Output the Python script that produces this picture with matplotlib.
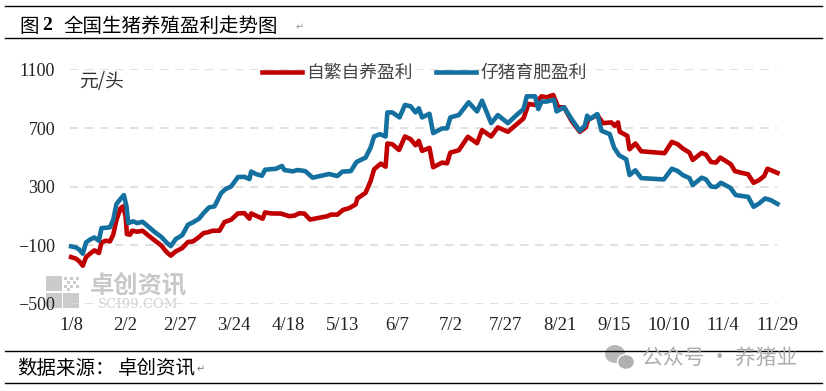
import matplotlib.pyplot as plt
from matplotlib.patches import Rectangle, Ellipse

plt.rcParams['font.family'] = ['Noto Sans CJK SC', 'DejaVu Sans']

tick_days = [0, 25, 50, 75, 100, 125, 150, 175, 200, 225, 250, 275, 300, 325]
tick_labels = ['1/8', '2/2', '2/27', '3/24', '4/18', '5/13', '6/7', '7/2', '7/27', '8/21', '9/15', '10/10', '11/4', '11/29']
y_ticks = [-500, -100, 300, 700, 1100]

red_days = [0, 2.3, 3.8, 5.4, 6.9, 8.7, 10.7, 12.8, 14, 16, 17.9, 19.4, 20.9, 22.8, 23.9, 25.1, 25.7, 27.2, 28.1, 30.4, 32.9, 35.5,
            38.5, 41.6, 43.9, 45.9, 48.2, 51.2, 53.8, 56.1, 58.9, 61, 62.9, 65.2, 68.3, 70.6, 73.7, 76.8, 79.8, 82.1, 82.9, 85.2,
            88.2, 89.3, 92, 96.6, 100.5, 102.8, 105.1, 107.4, 110, 118, 119.6, 122.6, 125.2, 128, 131, 131.8, 135.6, 137.9, 139.5,
            142.6, 144.8, 145.6, 147.9, 151, 153.7, 156.3, 158.6, 160.1, 161.6, 165, 166.7, 170.8, 173.1, 174.6, 178.5, 182.7,
            186.9, 189.2, 193.4, 196.5, 201.1, 205.2, 208.3, 210.6, 213.6, 215.1, 216.6, 218.9, 222, 224.3, 227, 230.4, 234.2,
            237, 238, 242.3, 244.9, 248.7, 250.3, 251.8, 252.6, 256.1, 257.1, 259.8, 262.5, 273.2, 276.6, 279.3, 281.6, 284.7,
            286.2, 290.3, 292.3, 294.6, 296.9, 298.9, 303.8, 305.6, 308.4, 311.7, 314.2, 316.8, 319.1, 320.6, 322.1, 325.2]
red_values = [-180, -191, -209, -239, -180, -157, -134, -152, -80, -68, -73, -27, 75, 154, 166, 98, -23, -27, 0, -7, 0, -32,
              -66, -102, -145, -170, -141, -118, -77, -73, -43, -16, -11, 0, 0, 59, 75, 118, 120, 82, 118, 102,
              82, 125, 118, 117, 99, 103, 119, 117, 76, 99, 110, 110, 142, 154, 179, 220, 259, 339, 419,
              458, 437, 595, 590, 551, 643, 625, 583, 613, 545, 565, 433, 465, 460, 533, 549, 641,
              597, 686, 643, 705, 675, 727, 766, 865, 858, 894, 917, 910, 926, 842, 842, 750, 675,
              705, 757, 789, 734, 739, 716, 739, 675, 647, 556, 595, 542, 529, 606, 590, 561, 533,
              483, 531, 519, 469, 465, 499, 453, 407, 396, 385, 327, 346, 373, 423, 414, 394]

blue_days = [0, 2.3, 3.8, 5.4, 6.9, 8.7, 10.7, 12.8, 14, 16, 17.9, 19.4, 20.9, 22.8, 24.3, 25.5, 26.3, 28.6, 30.4, 32.9, 35.5,
             38.5, 41.6, 43.9, 45.9, 48.2, 51.2, 53.8, 56.1, 58.9, 61, 63.5, 66, 69.1, 71.1, 73.7, 76.8, 79.8, 82.1, 82.9, 85.2,
             87.9, 89.3, 92, 94.4, 97.1, 98.2, 102, 104.3, 107.8, 111.2, 118.8, 122.6, 124.9, 128.8, 131.4, 135.6, 137.9, 139.5,
             142.1, 144.8, 145.6, 147.9, 151.2, 153.7, 156.3, 158.6, 160.1, 161.6, 165, 166.7, 170.8, 173.1, 174.6, 178.5, 183,
             186.9, 189.2, 193.4, 196.5, 201.1, 205.2, 208.3, 209.8, 213.6, 215.1, 216.6, 218.9, 222.4, 223.5, 227, 230.4, 234.2,
             236.5, 237.6, 238.8, 242.3, 244.2, 248, 250, 252.3, 255.6, 257.1, 259.8, 262.5, 272.9, 276.6, 279.3, 281.6, 284.7,
             286.2, 290.3, 292.3, 294.6, 296.9, 299.2, 303.5, 306, 311.7, 314.2, 316.8, 319.5, 322.1, 325.2]
blue_values = [-107, -114, -130, -157, -80, -61, -46, -68, 18, 20, 23, 75, 182, 218, 243, 166, 52, 64, 52, 61, 29,
               -9, -43, -80, -105, -57, -30, 41, 57, 82, 120, 159, 166, 257, 284, 302, 366, 368, 352, 404, 386,
               375, 416, 420, 423, 442, 414, 405, 414, 407, 362, 387, 373, 403, 407, 469, 499, 567, 643,
               659, 643, 807, 807, 773, 858, 849, 807, 835, 773, 798, 666, 698, 698, 773, 789, 876,
               814, 887, 734, 789, 734, 791, 830, 917, 917, 830, 881, 881, 894, 814, 842, 762, 682,
               716, 785, 762, 796, 682, 659, 567, 515, 487, 380, 412, 359, 350, 423, 407, 380, 359,
               311, 362, 350, 302, 298, 327, 293, 243, 231, 163, 186, 220, 209, 183]

W, H = 826, 391
fig = plt.figure(figsize=(W / 100, H / 100), dpi=100)

# page layer in pixel coordinates: rules, captions, watermarks
page = fig.add_axes([0, 0, 1, 1], zorder=0)
page.set_xlim(0, W)
page.set_ylim(H, 0)
page.axis('off')

for y in [6, 38, 351, 383]:
    page.plot([5, 822], [y, y], color='black', lw=1)

page.text(19, 26, '图', fontsize=14, va='center', fontweight='medium', color='black')
page.text(42, 26, '2', fontsize=14, va='center', fontweight='bold', color='black', family='Liberation Serif')
page.text(63, 26, '全国生猪养殖盈利走势图', fontsize=14, va='center', fontweight='medium', color='black')
page.text(296, 27, '↵', fontsize=7, va='center', color='#999999')
page.text(17, 368, '数据来源：', fontsize=14, va='center', color='black')
page.text(118, 368, '卓创资讯', fontsize=14, va='center', color='black')
page.text(197, 369, '↵', fontsize=7, va='center', color='#777777')

# 卓创 watermark
for x0, y0, w, h in [(46, 276, 16, 15), (46, 293, 16, 15), (63, 293, 16, 15)]:
    page.add_patch(Rectangle((x0, y0), w, h, color='#cbcbcb', lw=0))
for x0, y0 in [(64, 277), (70, 277), (76, 277), (67, 281), (73, 281), (64, 285), (70, 285), (76, 285), (67, 288)]:
    page.add_patch(Rectangle((x0, y0), 2.5, 2.5, color='#cbcbcb', lw=0))
page.text(138, 286.5, '卓创资讯', fontsize=17.5, ha='center', va='center', color='#c8c8c8', fontweight='bold')
page.text(138, 304.5, 'SCI99.COM', fontsize=9.5, ha='center', va='center', color='#d0d0d0', family='DejaVu Serif')

# 公众号 watermark
page.add_patch(Ellipse((615, 354), 20, 18, color='#b8b8b8', lw=0))
page.add_patch(Ellipse((626, 362), 17, 15, color='#b0b0b0', ec='white', lw=1))
page.text(642, 358, '公众号 · 养猪业', fontsize=15, va='center', color='#adadad')

# chart layer
ax = fig.add_axes([70 / W, 1 - 304 / H, 707 / W, 234.5 / H], zorder=1)
ax.patch.set_alpha(0)
ax.plot(red_days, red_values, color='#c00000', lw=3.3, label='自繁自养盈利', clip_on=False, solid_joinstyle='round', zorder=3)
ax.plot(blue_days, blue_values, color='#14709f', lw=3.3, label='仔猪育肥盈利', clip_on=False, solid_joinstyle='round', zorder=4)

ax.set_xlim(-0.5, 325)
ax.set_ylim(-500, 1100)
ax.set_yticks(y_ticks)
ax.set_yticklabels(['\u2212500', '\u2212100', '300', '700', '1100'], fontsize=13, family='Liberation Serif', color='#222222')
ax.set_xticks(tick_days)
ax.set_xticklabels(tick_labels, fontsize=13.5, family='Liberation Serif', color='#222222')
ax.tick_params(length=0)
ax.tick_params(axis='y', pad=10.8)
ax.tick_params(axis='x', pad=9)
ax.grid(axis='y', color='#dcdcdc', lw=1.2, dashes=(5, 4))
ax.set_axisbelow(True)
for spine in ax.spines.values():
    spine.set_visible(False)

ax.text(79 / W, 1 - 81 / H, '元/头', fontsize=13.5, transform=fig.transFigure, va='center', color='#333333')
ax.legend(loc='center left', bbox_to_anchor=(262 / W, 1 - 73 / H), bbox_transform=fig.transFigure, ncol=2, frameon=False,
          fontsize=12.8, handlelength=2.25, handletextpad=0.22, columnspacing=1.35, labelcolor='#444444', borderpad=0, borderaxespad=0)

fig.savefig('out.png', dpi=100)
